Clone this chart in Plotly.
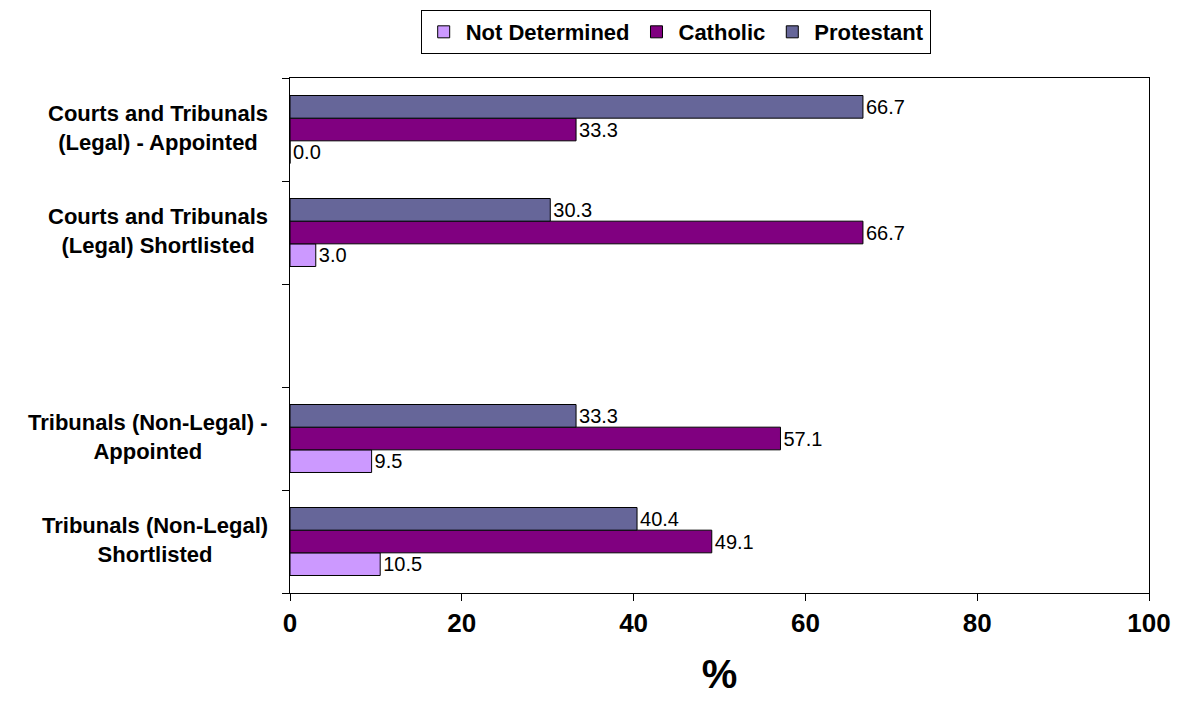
import plotly.graph_objects as go

# Categories listed bottom-to-top (Plotly category order); " " is an empty spacer row
categories = [
    "Tribunals (Non-Legal)<br>Shortlisted",
    "Tribunals (Non-Legal) -<br>Appointed",
    " ",
    "Courts and Tribunals<br>(Legal) Shortlisted",
    "Courts and Tribunals<br>(Legal) - Appointed",
]
data_categories = [categories[0], categories[1], categories[3], categories[4]]

not_determined = [10.5, 9.5, 3.0, 0.0]
catholic = [49.1, 57.1, 66.7, 33.3]
protestant = [40.4, 33.3, 30.3, 66.7]

series = [
    ("Not Determined", not_determined, "#CC99FF"),
    ("Catholic", catholic, "#800080"),
    ("Protestant", protestant, "#666699"),
]

x_ticks = [0, 20, 40, 60, 80, 100]

FONT = "Liberation Sans, Arial, sans-serif"

fig = go.Figure()
for name, vals, color in series:
    fig.add_trace(go.Bar(
        name=name,
        y=data_categories,
        x=vals,
        orientation="h",
        marker=dict(color=color, line=dict(color="black", width=1)),
        text=[f"{v:.1f}" for v in vals],
        textposition="outside",
        cliponaxis=False,
        textfont=dict(family=FONT, size=20, color="black"),
    ))

# Centred, bold two-line category labels to the left of the axis
for cat in categories:
    if cat.strip():
        fig.add_annotation(
            x=0, xref="paper", xanchor="right", xshift=-20,
            y=cat, yref="y", yanchor="middle", yshift=2,
            text=cat, showarrow=False, align="center",
            font=dict(family=FONT, size=22, color="black", weight="bold"),
        )

fig.update_layout(
    width=1178,
    height=717,
    barmode="group",
    bargap=0.34,
    bargroupgap=0,
    plot_bgcolor="white",
    paper_bgcolor="white",
    margin=dict(l=290, r=29, t=78, b=124, autoexpand=False),
    font=dict(family=FONT, color="black"),
    legend=dict(
        orientation="h",
        x=0.449, xanchor="center",
        y=1.132, yanchor="top",
        bordercolor="black", borderwidth=1,
        font=dict(size=22, family=FONT, weight="bold"),
        traceorder="normal",
        itemwidth=34,
        tracegroupgap=0,
    ),
    xaxis=dict(
        range=[0, 100],
        tickvals=x_ticks,
        ticks="outside",
        ticklen=7,
        tickcolor="black",
        showgrid=False,
        zeroline=False,
        showline=True,
        linecolor="black",
        linewidth=1,
        mirror=True,
        automargin=False,
        tickfont=dict(size=26, weight="bold"),
        title=dict(text="%", font=dict(size=40, weight="bold"), standoff=22),
    ),
    yaxis=dict(
        type="category",
        categoryorder="array",
        categoryarray=categories,
        tickson="boundaries",
        ticks="outside",
        ticklen=7,
        tickcolor="black",
        showgrid=False,
        showline=True,
        linecolor="black",
        linewidth=1,
        mirror=True,
        automargin=False,
        showticklabels=False,
    ),
)

fig.write_html("out.html")
